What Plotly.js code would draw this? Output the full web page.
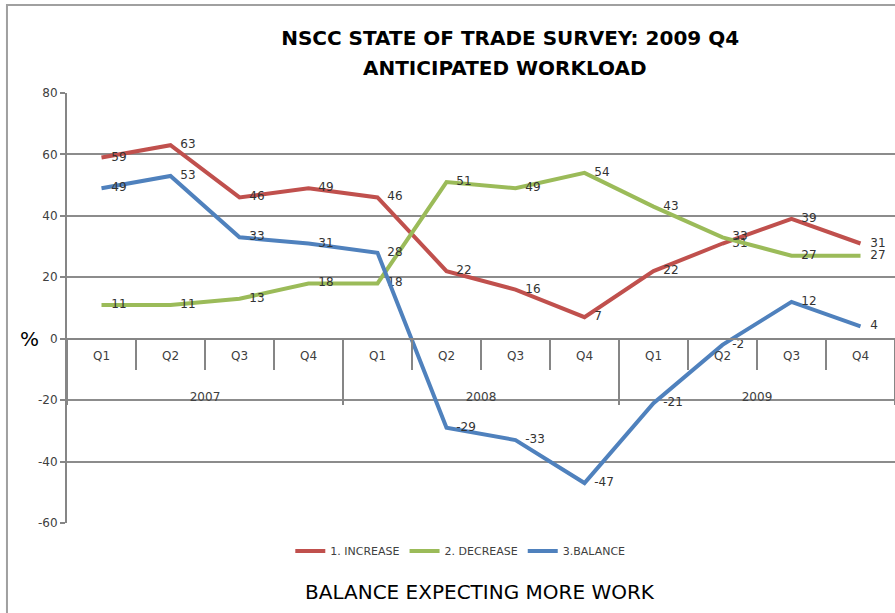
<!DOCTYPE html>
<html>
<head>
<meta charset="utf-8">
<script src="https://cdn.plot.ly/plotly-3.0.1.min.js"></script>
<style>html,body{margin:0;padding:0;background:#fff;}#chart{width:895px;height:613px;}</style>
</head>
<body>
<div id="chart"></div>
<script>
const years = ["2007","2007","2007","2007","2008","2008","2008","2008","2009","2009","2009","2009"];
const quarters = ["Q1","Q2","Q3","Q4","Q1","Q2","Q3","Q4","Q1","Q2","Q3","Q4"];
const increase = [59,63,46,49,46,22,16,7,22,31,39,31];
const decrease = [11,11,13,18,18,51,49,54,43,33,27,27];
const balance = [49,53,33,31,28,-29,-33,-47,-21,-2,12,4];
const seriesNames = ["1. INCREASE","2. DECREASE","3.BALANCE"];
const yTicks = [-60,-40,-20,0,20,40,60,80];
const colors = ["#C0504D","#9BBB59","#4F81BD"];

const FONT = "DejaVu Sans, sans-serif";
const vals = [increase, decrease, balance];
const yearLabels = years.map(y => '<br><br>' + y);
const traces = vals.map((v,i)=>({
  type:'scatter',
  mode:'lines+markers+text',
  name: seriesNames[i],
  x:[yearLabels, quarters],
  y:v,
  text:v.map(String),
  textposition:'middle right',
  textfont:{family:FONT,size:12,color:'#333333'},
  line:{color:colors[i],width:4},
  marker:{size:14,color:'rgba(0,0,0,0)',line:{width:0}},
  cliponaxis:false
}));

const layout = {
  width:895, height:613,
  margin:{l:67,r:0,t:93,b:90},
  paper_bgcolor:'#ffffff', plot_bgcolor:'#ffffff',
  font:{family:FONT,color:'#404040'},
  title:{text:'NSCC STATE OF TRADE SURVEY: 2009 Q4',
    font:{family:FONT,size:20,color:'#000000',weight:'bold'},
    x:0.57, xanchor:'center', y:1-38/613, yanchor:'middle', xref:'container', yref:'container'},
  showlegend:true,
  legend:{orientation:'h', x:0.475, xanchor:'center', y:-0.065, yanchor:'middle',
    font:{family:FONT,size:11,color:'#404040'}, itemwidth:30, traceorder:'normal'},
  xaxis:{
    type:'multicategory',
    anchor:'free', position:60/140,
    showline:true, linecolor:'#868686', linewidth:2,
    ticks:'outside', tickson:'boundaries', ticklen:30, tickcolor:'#868686', tickwidth:2,
    ticklabelstandoff:6,
    showdividers:true, dividercolor:'#868686', dividerwidth:2,
    showgrid:false, zeroline:false,
    tickfont:{family:FONT,size:12,color:'#404040'},
    range:[-0.5,11.5]
  },
  yaxis:{
    range:[-60,80], tickmode:'array', tickvals:yTicks, ticktext:yTicks.map(String),
    showgrid:true, gridcolor:'#8c8c8c', gridwidth:2,
    zeroline:false,
    showline:true, linecolor:'#868686', linewidth:2,
    ticks:'outside', ticklen:5, tickcolor:'#868686', tickwidth:2,
    tickfont:{family:FONT,size:12,color:'#404040'}
  },
  annotations:[
    {text:'<b>ANTICIPATED WORKLOAD</b>', xref:'paper', yref:'paper', x:(505-67)/828, y:1+(93-68)/430,
     xanchor:'center', yanchor:'middle', showarrow:false,
     font:{family:FONT,size:20,color:'#000000'}},
    {text:'%', xref:'paper', yref:'y', x:-0.045, y:0, xanchor:'center', yanchor:'middle',
     showarrow:false, font:{family:FONT,size:20,color:'#000000'}},
    {text:'BALANCE EXPECTING MORE WORK', xref:'paper', yref:'paper', x:0.499, y:-0.16,
     xanchor:'center', yanchor:'middle', showarrow:false,
     font:{family:FONT,size:20,color:'#000000'}}
  ],
  shapes:[
    {type:'rect', xref:'paper', yref:'paper', x0:-0.0725, x1:1.2, y0:-0.6, y1:1.2047,
     line:{color:'#a0a0a0',width:2}, fillcolor:'rgba(0,0,0,0)', layer:'below'}
  ]
};
Plotly.newPlot('chart', traces, layout, {displayModeBar:false, staticPlot:true});
</script>
</body>
</html>
